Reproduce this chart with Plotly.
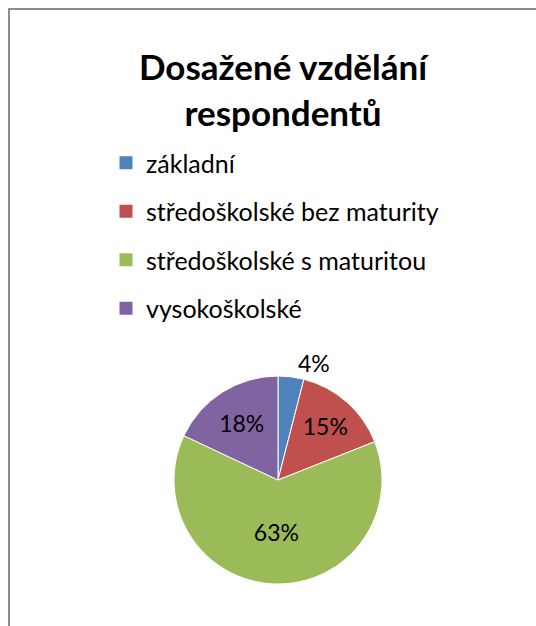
import plotly.graph_objects as go

categories = ["základní", "středoškolské bez maturity", "středoškolské s maturitou", "vysokoškolské"]
values = [4, 15, 63, 18]
colors = ["#4F81BD", "#C0504D", "#9BBB59", "#8064A2"]
title_text = "Dosažené vzdělání<br>respondentů"

W, H = 536, 626
FONT = "Lato"

fig = go.Figure()

# legend entries (dummy traces so each row can be spaced like the original)
for i, (c, col) in enumerate(zip(categories, colors)):
    fig.add_trace(go.Scatter(
        x=[None], y=[None], mode="markers", name=c,
        marker=dict(symbol="square", size=13, color=col),
        legendgroup=f"g{i}", showlegend=True, hoverinfo="skip"))

cx, cy, r = 278, 480, 104
fig.add_trace(go.Pie(
    labels=categories, values=values, sort=False, direction="clockwise",
    rotation=0, showlegend=False,
    marker=dict(colors=colors, line=dict(color="white", width=1)),
    texttemplate="%{percent:.0%}",
    textposition=["outside", "inside", "inside", "inside"],
    insidetextorientation="horizontal",
    textfont=dict(family=FONT, size=23, color="black"),
    outsidetextfont=dict(family=FONT, size=23, color="black"),
    domain=dict(x=[(cx - r) / W, (cx + r) / W], y=[1 - (cy + r) / H, 1 - (cy - r) / H]),
))

fig.update_layout(
    width=W, height=H,
    margin=dict(l=0, r=0, t=0, b=0),
    paper_bgcolor="white", plot_bgcolor="white",
    font=dict(family=FONT, color="black"),
    title=dict(text=title_text, x=283 / W, xanchor="center", y=1 - 80 / H, yanchor="top",
               font=dict(family=FONT, size=35, color="black", weight="bold")),
    legend=dict(x=106 / W, xanchor="left", y=1 - 140 / H, yanchor="top",
                font=dict(family=FONT, size=25, color="black"),
                tracegroupgap=13, bgcolor="rgba(0,0,0,0)", itemclick=False),
    xaxis=dict(visible=False), yaxis=dict(visible=False),
    shapes=[dict(type="rect", xref="paper", yref="paper",
                 x0=9 / W, x1=1.2, y0=-0.2, y1=1 - 9 / H,
                 line=dict(color="#8C8C8C", width=2), layer="above")],
)

fig.write_html("out.html", config={"displayModeBar": False},
               post_script="document.body.style.margin='0';document.body.style.overflow='hidden';")
